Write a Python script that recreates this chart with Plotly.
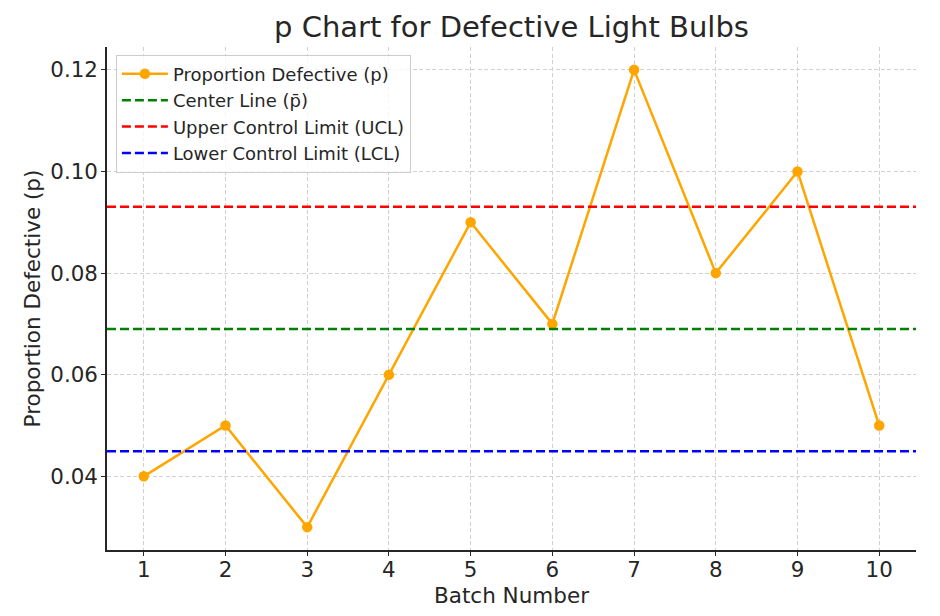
import plotly.graph_objects as go

batches = [1, 2, 3, 4, 5, 6, 7, 8, 9, 10]
proportions = [0.04, 0.05, 0.03, 0.06, 0.09, 0.07, 0.12, 0.08, 0.10, 0.05]
p_bar = 0.069
ucl = 0.09305
lcl = 0.04496
y_ticks = [0.04, 0.06, 0.08, 0.10, 0.12]
y_tick_labels = ["0.04", "0.06", "0.08", "0.10", "0.12"]

FONT = "DejaVu Sans, Liberation Sans, sans-serif"
TXT = "#262626"

fig = go.Figure()
fig.add_trace(go.Scatter(
    x=batches, y=proportions, mode="lines+markers",
    name="Proportion Defective (p)",
    line=dict(color="#FFA500", width=2.5),
    marker=dict(color="#FFA500", size=10.5),
))
x_span = [0.55, 10.45]
fig.add_trace(go.Scatter(
    x=x_span, y=[p_bar, p_bar], mode="lines", name="Center Line (p̄)",
    line=dict(color="green", width=2.5, dash="9px,4px"),
))
fig.add_trace(go.Scatter(
    x=x_span, y=[ucl, ucl], mode="lines", name="Upper Control Limit (UCL)",
    line=dict(color="red", width=2.5, dash="9px,4px"),
))
fig.add_trace(go.Scatter(
    x=x_span, y=[lcl, lcl], mode="lines", name="Lower Control Limit (LCL)",
    line=dict(color="blue", width=2.5, dash="9px,4px"),
))

fig.update_layout(
    width=932, height=608,
    margin=dict(l=99, r=24, t=39, b=66),
    paper_bgcolor="white", plot_bgcolor="white",
    font=dict(family=FONT, color=TXT),
    title=dict(text="p Chart for Defective Light Bulbs", x=0.5, xanchor="center",
               xref="paper", y=0.969, yanchor="middle", font=dict(size=29, color=TXT)),
    legend=dict(x=0.011, y=0.985, xanchor="left", yanchor="top",
                bgcolor="rgba(255,255,255,0.8)", bordercolor="#cccccc", borderwidth=1,
                font=dict(size=18, color=TXT), tracegroupgap=0, itemwidth=46),
    showlegend=True,
)
common = dict(
    showgrid=True, gridcolor="#d0d0d0", griddash="4px,2.5px", gridwidth=1,
    showline=True, linecolor=TXT, linewidth=1.5, mirror=False,
    ticks="outside", ticklen=4, tickcolor=TXT, tickwidth=1.2,
    tickfont=dict(size=21.4, color=TXT), zeroline=False, automargin=False,
)
fig.update_xaxes(
    range=[0.55, 10.45], tickmode="array", tickvals=batches,
    ticktext=[str(b) for b in batches], ticklabelstandoff=-4,
    title=dict(text="Batch Number", font=dict(size=21.5, color=TXT), standoff=7),
    **common,
)
fig.update_yaxes(
    range=[0.0255, 0.1245], tickmode="array", tickvals=y_ticks, ticktext=y_tick_labels,
    ticklabelstandoff=-1,
    title=dict(text="Proportion Defective (p)", font=dict(size=21.5, color=TXT), standoff=4),
    **common,
)

fig.write_html("out.html")
